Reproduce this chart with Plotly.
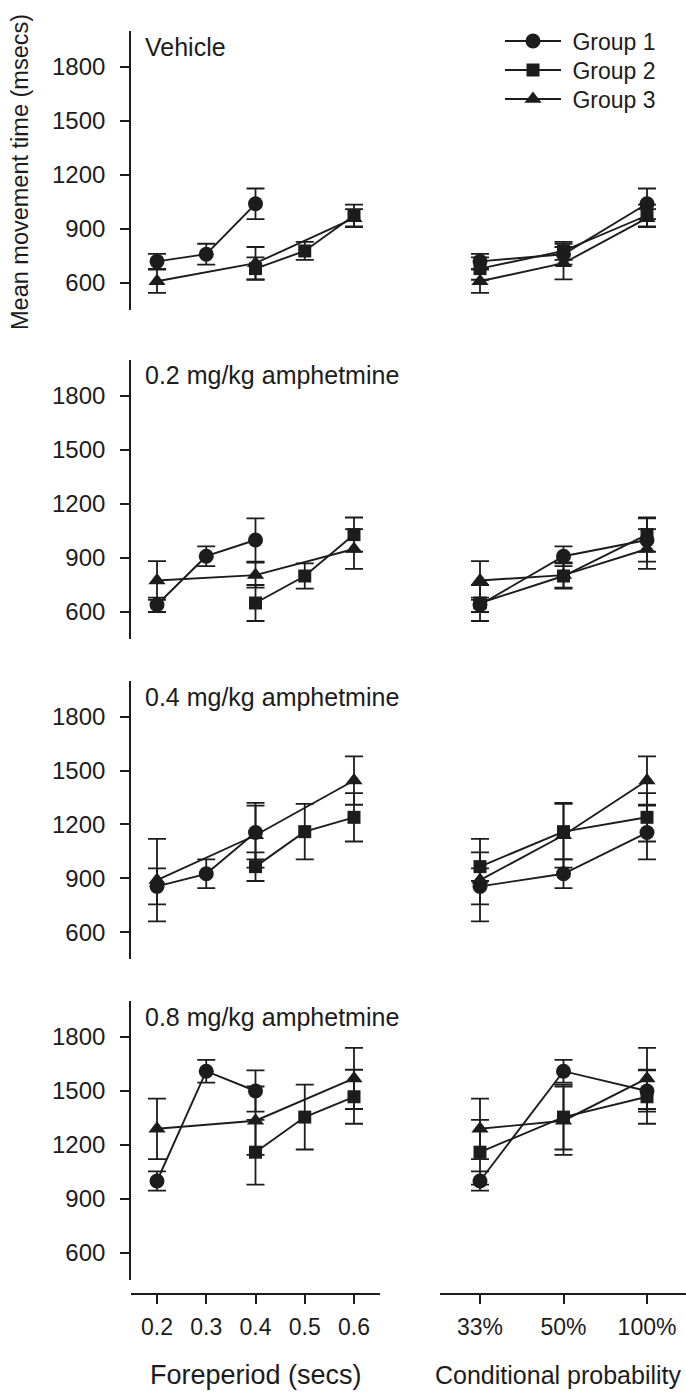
import plotly.graph_objects as go

# Foreperiods (secs) tested in each group; each group's three foreperiods map to
# conditional probabilities of 33%, 50% and 100% respectively.
foreperiod_g1 = [0.2, 0.3, 0.4]
foreperiod_g2 = [0.4, 0.5, 0.6]
foreperiod_g3 = [0.2, 0.4, 0.6]
probabilities = ["33%", "50%", "100%"]
foreperiod_ticks = [0.2, 0.3, 0.4, 0.5, 0.6]

conditions = ["Vehicle", "0.2 mg/kg amphetmine", "0.4 mg/kg amphetmine", "0.8 mg/kg amphetmine"]
group_names = ["Group 1", "Group 2", "Group 3"]

# Mean movement time (msecs) per condition, one list per group
g1_mean = [[720, 760, 1040], [640, 910, 1000], [855, 925, 1155], [1000, 1610, 1500]]
g2_mean = [[680, 778, 975], [650, 800, 1030], [965, 1160, 1240], [1160, 1355, 1468]]
g3_mean = [[610, 710, 960], [775, 805, 950], [890, 1140, 1445], [1290, 1335, 1570]]

# Standard errors
g1_err = [[42, 58, 85], [40, 55, 120], [100, 80, 150], [53, 63, 115]]
g2_err = [[62, 50, 60], [100, 70, 95], [80, 155, 135], [180, 180, 150]]
g3_err = [[65, 90, 50], [108, 70, 110], [230, 180, 135], [168, 190, 170]]

W, H = 686, 1394
INK = "#1c1c1c"
FONT = "Arial, Liberation Sans, Helvetica, sans-serif"


def fx(px):
    return px / W


def fy(px):
    return 1 - px / H


# panel vertical extents in pixels (top, bottom)
panel_px = [(31, 310), (360, 639), (681, 959), (1001, 1280)]
left_px = (131, 380)
right_px = (440, 686)
bottom_axis_px = 1294
y_range = [450, 2000]
x_left_range = [0.1472, 0.6528]
x_right_range = [-0.479, 2.467]

groups = [
    (foreperiod_g1, g1_mean, g1_err, "circle", 15),
    (foreperiod_g2, g2_mean, g2_err, "square", 13),
    (foreperiod_g3, g3_mean, g3_err, "triangle-up", 15),
]
legend_ids = ["legend", "legend2", "legend3"]
legend_rows_px = [41, 70, 99]

fig = go.Figure()
layout = {}

for p in range(4):
    li, ri = 2 * p + 1, 2 * p + 2
    for gi, (fp, means, errs, sym, msize) in enumerate(groups):
        common = dict(
            mode="lines+markers",
            line=dict(color=INK, width=1.9),
            marker=dict(symbol=sym, size=msize, color=INK, line=dict(width=0)),
            error_y=dict(type="data", array=errs[p], color=INK, thickness=1.8, width=9),
            name="\u00a0" + group_names[gi],
            legendgroup=group_names[gi],
            legend=legend_ids[gi],
        )
        fig.add_trace(go.Scatter(x=fp, y=means[p], xaxis=f"x{li}", yaxis=f"y{li}",
                                 showlegend=(p == 0), **common))
        fig.add_trace(go.Scatter(x=probabilities, y=means[p], xaxis=f"x{ri}", yaxis=f"y{ri}",
                                 showlegend=False, **common))

    top, bot = panel_px[p]
    ydom = [fy(bot), fy(top)]
    is_bottom = p == 3

    # left panel axes
    xl = dict(domain=[fx(left_px[0]), fx(left_px[1])], range=x_left_range,
              showgrid=False, zeroline=False)
    if is_bottom:
        xl.update(anchor="free", position=fy(bottom_axis_px), showline=True,
                  linecolor=INK, linewidth=1.6, ticks="outside", ticklen=9,
                  tickwidth=1.6, tickcolor=INK, tickvals=foreperiod_ticks,
                  ticktext=[f"{v:.1f}" for v in foreperiod_ticks],
                  tickfont=dict(size=23, color=INK, family=FONT), ticklabelstandoff=4)
    else:
        xl.update(anchor=f"y{li}", visible=False)
    layout[f"xaxis{li}"] = xl
    layout[f"yaxis{li}"] = dict(
        domain=ydom, range=y_range, anchor=f"x{li}", showgrid=False, zeroline=False,
        showline=True, linecolor=INK, linewidth=1.6, ticks="outside", ticklen=9,
        tickwidth=1.6, tickcolor=INK, tick0=600, dtick=300,
        tickfont=dict(size=24, color=INK, family=FONT), ticklabelstandoff=10,
    )

    # right panel axes
    xr = dict(domain=[fx(right_px[0]), fx(right_px[1])], range=x_right_range,
              type="category", categoryorder="array", categoryarray=probabilities,
              showgrid=False, zeroline=False)
    if is_bottom:
        xr.update(anchor="free", position=fy(bottom_axis_px), showline=True,
                  linecolor=INK, linewidth=1.6, ticks="outside", ticklen=9,
                  tickwidth=1.6, tickcolor=INK,
                  tickfont=dict(size=23, color=INK, family=FONT), ticklabelstandoff=4)
    else:
        xr.update(anchor=f"y{ri}", visible=False)
    layout[f"xaxis{ri}"] = xr
    layout[f"yaxis{ri}"] = dict(domain=ydom, range=y_range, anchor=f"x{ri}", visible=False)

# one single-row legend per group so the rows sit at fixed heights
for lid, row in zip(legend_ids, legend_rows_px):
    layout[lid] = dict(x=fx(500), y=fy(row), xanchor="left", yanchor="middle",
                       font=dict(size=23, color=INK, family=FONT),
                       bgcolor="rgba(0,0,0,0)", itemwidth=56, tracegroupgap=0)

annotations = []
label_px = [47, 375, 697, 1017]
for p, text in enumerate(conditions):
    annotations.append(dict(text=text, x=fx(143), y=fy(label_px[p]), xref="paper", yref="paper",
                            xanchor="left", yanchor="middle", showarrow=False,
                            font=dict(size=25, color=INK, family=FONT)))
annotations.append(dict(text="Mean movement time (msecs)", x=fx(20), y=fy(172), xref="paper",
                        yref="paper", xanchor="center", yanchor="middle", textangle=-90,
                        showarrow=False, font=dict(size=23.5, color=INK, family=FONT)))
annotations.append(dict(text="Foreperiod (secs)", x=fx(256), y=fy(1375), xref="paper",
                        yref="paper", xanchor="center", yanchor="middle", showarrow=False,
                        font=dict(size=27, color=INK, family=FONT)))
annotations.append(dict(text="Conditional probability", x=fx(683), y=fy(1375), xref="paper",
                        yref="paper", xanchor="right", yanchor="middle", showarrow=False,
                        font=dict(size=25, color=INK, family=FONT)))

fig.update_layout(
    width=W, height=H,
    margin=dict(l=0, r=0, t=0, b=0),
    paper_bgcolor="white", plot_bgcolor="white",
    font=dict(family=FONT, color=INK),
    showlegend=True,
    annotations=annotations,
    **layout,
)

fig.write_html("out.html")
